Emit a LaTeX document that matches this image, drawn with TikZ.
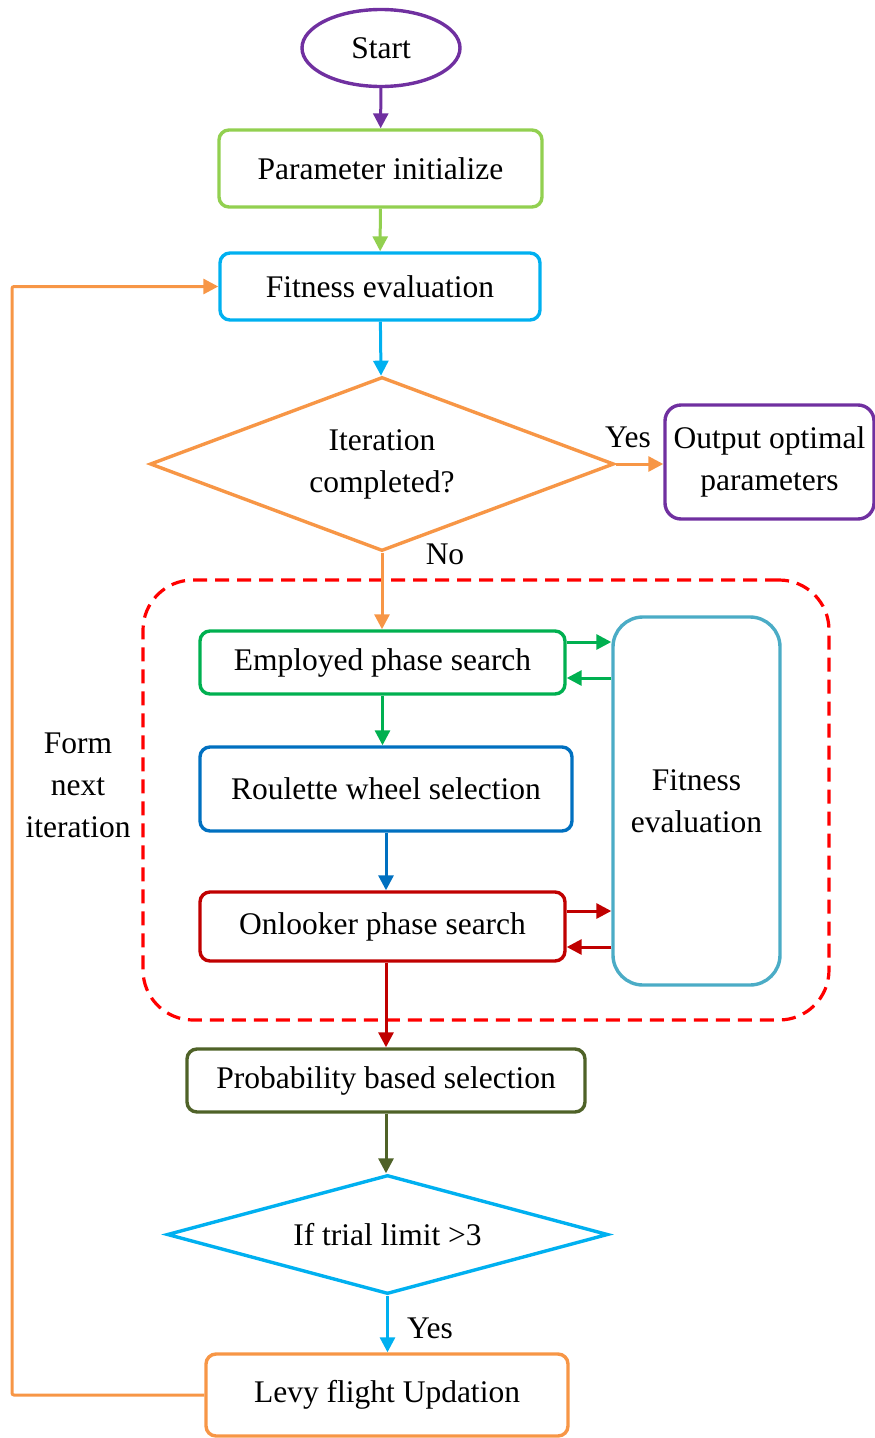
\documentclass[tikz,border=0pt]{standalone}
\usepackage{fontspec}
\setmainfont{Liberation Serif}
\usetikzlibrary{shapes.geometric,arrows.meta}
\definecolor{cPurple}{HTML}{7030A0}
\definecolor{cLGreen}{HTML}{92D050}
\definecolor{cLBlue}{HTML}{00B0F0}
\definecolor{cOrange}{HTML}{F79646}
\definecolor{cRed}{HTML}{FF0000}
\definecolor{cGreen}{HTML}{00B050}
\definecolor{cBlue}{HTML}{0070C0}
\definecolor{cDRed}{HTML}{C00000}
\definecolor{cAqua}{HTML}{4BACC6}
\definecolor{cOlive}{HTML}{4F6228}
\tikzset{
  x=1pt,y=-1pt,
  every node/.style={font=\fontsize{31.5}{42}\selectfont, text=black, align=center, inner sep=0pt},
  box/.style={draw, rectangle, rounded corners=10pt, line width=3.4pt},
  decis/.style={draw, diamond, line width=3.4pt},
  arr/.style={line width=3pt, -{Triangle[length=15pt,width=15pt]}},
}
\begin{document}
\begin{tikzpicture}
\useasboundingbox (0,0) rectangle (875,1438);
% frame
\node[draw=cRed, dashed, dash pattern=on 14pt off 8pt, line width=3.2pt, rounded corners=50pt,
      minimum width=686pt, minimum height=440pt] (frame) at (486,800) {};
% nodes
\node[draw=cPurple, ellipse, line width=3.4pt, minimum width=158pt, minimum height=77pt] (start) at (381,48) {Start};
\node[box, draw=cLGreen, minimum width=323pt, minimum height=77pt] (param) at (380.5,168.5) {Parameter initialize};
\node[box, draw=cLBlue, minimum width=320pt, minimum height=67pt] (fit1) at (380,286.5) {Fitness evaluation};
\node[decis, draw=cOrange, aspect=2.667, minimum width=464pt, minimum height=174pt] (dec1) at (382,464) {Iteration\\completed?};
\node[box, draw=cPurple, rounded corners=16pt, minimum width=209pt, minimum height=114pt] (out) at (769.5,462) {Output optimal\\parameters};
\node[box, draw=cGreen, minimum width=365pt, minimum height=63pt] (emp) at (382.5,662.5) {Employed phase search};
\node[box, draw=cBlue, minimum width=372pt, minimum height=84pt] (rou) at (386,789) {Roulette wheel selection};
\node[box, draw=cDRed, minimum width=365pt, minimum height=69pt] (onl) at (382.5,926.5) {Onlooker phase search};
\node[box, draw=cAqua, rounded corners=30pt, minimum width=167pt, minimum height=368pt] (fit2) at (696.5,801) {Fitness\\evaluation};
\node[box, draw=cOlive, minimum width=398pt, minimum height=63pt] (prob) at (386,1080.5) {Probability based selection};
\node[decis, draw=cLBlue, aspect=3.7, minimum width=441pt, minimum height=119pt] (dec2) at (387.5,1234.5) {If trial limit {>}3};
\node[box, draw=cOrange, minimum width=362pt, minimum height=82pt] (levy) at (387,1395) {Levy flight Updation};
% labels
\node (yes1) at (628,437) {Yes};
\node (no1) at (445,554) {No};
\node (yes2) at (430,1328) {Yes};
\node (form) at (78,785) {Form\\next\\iteration};
% helper coordinates
\coordinate (ya) at (0,642);
\coordinate (yb) at (0,678);
\coordinate (yc) at (0,911);
\coordinate (yd) at (0,947);
\coordinate (lp) at (12,0);
% connectors
\draw[arr, cPurple] (start) -- (param);
\draw[arr, cLGreen] (param) -- (fit1);
\draw[arr, cLBlue] (fit1) -- (dec1);
\draw[arr, cOrange] (dec1.east) -- (out.west |- dec1.east);
\draw[arr, cOrange] (dec1.south) -- (emp.north -| dec1.south);
\draw[arr, cGreen] (emp.east |- ya) -- (fit2.west |- ya);
\draw[arr, cGreen] (fit2.west |- yb) -- (emp.east |- yb);
\draw[arr, cGreen] (emp.south) -- (rou.north -| emp.south);
\draw[arr, cBlue] (rou.south) -- (onl.north -| rou.south);
\draw[arr, cDRed] (onl.east |- yc) -- (fit2.west |- yc);
\draw[arr, cDRed] (fit2.west |- yd) -- (onl.east |- yd);
\draw[arr, cDRed] (rou.south |- onl.south) -- (prob.north -| rou.south);
\draw[arr, cOlive] (prob.south) -- (dec2.north -| prob.south);
\draw[arr, cLBlue] (dec2.south) -- (levy.north -| dec2.south);
\draw[arr, cOrange, rounded corners=2pt] (levy.west) -- (lp |- levy.west) -- (lp |- fit1.west) -- (fit1.west);
\end{tikzpicture}
\end{document}
